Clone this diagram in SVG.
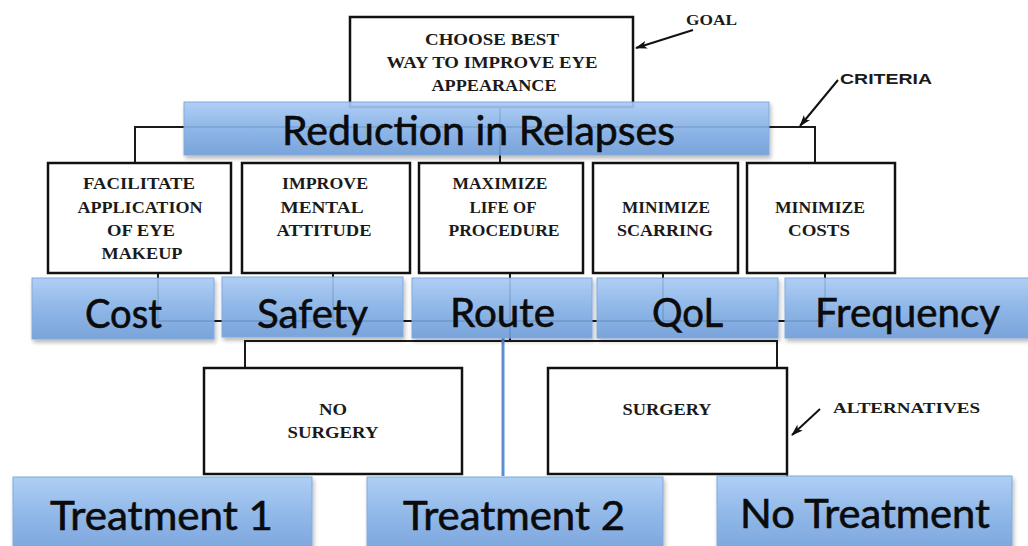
<svg xmlns="http://www.w3.org/2000/svg" width="1028" height="546" viewBox="0 0 1028 546">
  <defs>
    <linearGradient id="blue" x1="0" y1="0" x2="0" y2="1">
      <stop offset="0" stop-color="#a9cbf4"/>
      <stop offset="0.5" stop-color="#86b1e6"/>
      <stop offset="1" stop-color="#6f9dd8"/>
    </linearGradient>
    <filter id="shadow" x="-5%" y="-10%" width="112%" height="135%">
      <feDropShadow dx="1.5" dy="3" stdDeviation="2" flood-color="#000" flood-opacity="0.3"/>
    </filter>
    <marker id="head" viewBox="0 0 12 8" refX="11" refY="4" markerWidth="12" markerHeight="8" markerUnits="userSpaceOnUse" orient="auto">
      <path d="M0,0 L12,4 L0,8 L3,4 Z" fill="#111"/>
    </marker>
    <style>
      .box { fill: #fff; stroke: #111; stroke-width: 2.5; }
      .wire { fill: none; stroke: #1a1a1a; stroke-width: 2; }
      .pointer { fill: none; stroke: #111; stroke-width: 2; marker-end: url(#head); }
      .bar { fill: url(#blue); stroke: #77a3da; stroke-width: 1; }
      .barset { opacity: 0.92; }
      .scan { font-family: "Liberation Serif", serif; font-weight: bold; font-size: 16px; fill: #1a1a1a; text-anchor: middle; }
      .tag { font-family: "Liberation Serif", serif; font-weight: bold; font-size: 15px; fill: #1a1a1a; }
      .big { font-family: Lato, "Open Sans", sans-serif; font-size: 40px; fill: #0b0b0b; stroke: #0b0b0b; stroke-width: 0.6; text-anchor: middle; }
    </style>
  </defs>

  <rect width="1028" height="546" fill="#fff"/>

  <!-- connectors of the hierarchy -->
  <g id="connectors">
    <path class="wire" d="M135,163 V127 H815 V163"/>
    <path class="wire" d="M500,105 V163"/>
    <path class="wire" d="M158,273 V321 M333,273 V321 M510,273 V321 M663,273 V321 M825,273 V321 M158,321 H825"/>
    <path class="wire" d="M510,321 V341"/>
    <path class="wire" d="M245,368 V341 H777 V368"/>
    <line x1="503" y1="338" x2="503" y2="476" stroke="#5b8fd2" stroke-width="3"/>
    <path class="pointer" d="M693,30 L636,48"/>
    <path class="pointer" d="M838,80 L800,126"/>
    <path class="pointer" d="M820,409 L792,435"/>
  </g>

  <!-- goal -->
  <g id="goal">
    <rect class="box" x="350" y="17" width="283" height="90"/>
    <text class="scan" x="492" y="45" font-size="17" textLength="134" lengthAdjust="spacingAndGlyphs">CHOOSE  BEST</text>
    <text class="scan" x="492" y="68" font-size="17" textLength="211" lengthAdjust="spacingAndGlyphs">WAY TO IMPROVE EYE</text>
    <text class="scan" x="494" y="91" font-size="17" textLength="125" lengthAdjust="spacingAndGlyphs">APPEARANCE</text>
  </g>
  <g id="goal-label">
    <text class="tag" x="686" y="25" textLength="51" lengthAdjust="spacingAndGlyphs">GOAL</text>
  </g>
  <g id="criteria-label">
    <text x="840" y="84" font-family="Liberation Sans, sans-serif" font-weight="bold" font-size="14" fill="#1a1a1a" textLength="92" lengthAdjust="spacingAndGlyphs">CRITERIA</text>
  </g>

  <!-- criteria -->
  <g id="criterion-makeup">
    <rect class="box" x="48" y="163" width="183" height="110"/>
    <text class="scan" x="139" y="189" textLength="112" lengthAdjust="spacingAndGlyphs">FACILITATE</text>
    <text class="scan" x="140" y="213" textLength="125" lengthAdjust="spacingAndGlyphs">APPLICATION</text>
    <text class="scan" x="141" y="236" textLength="68" lengthAdjust="spacingAndGlyphs">OF EYE</text>
    <text class="scan" x="142" y="259" textLength="81" lengthAdjust="spacingAndGlyphs">MAKEUP</text>
  </g>
  <g id="criterion-attitude">
    <rect class="box" x="242" y="163" width="168" height="110"/>
    <text class="scan" x="325" y="189" textLength="86" lengthAdjust="spacingAndGlyphs">IMPROVE</text>
    <text class="scan" x="322" y="213" textLength="83" lengthAdjust="spacingAndGlyphs">MENTAL</text>
    <text class="scan" x="324" y="236" textLength="95" lengthAdjust="spacingAndGlyphs">ATTITUDE</text>
  </g>
  <g id="criterion-life">
    <rect class="box" x="419" y="163" width="164" height="110"/>
    <text class="scan" x="500" y="189" textLength="95" lengthAdjust="spacingAndGlyphs">MAXIMIZE</text>
    <text class="scan" x="503" y="213" textLength="67" lengthAdjust="spacingAndGlyphs">LIFE OF</text>
    <text class="scan" x="504" y="236" textLength="111" lengthAdjust="spacingAndGlyphs">PROCEDURE</text>
  </g>
  <g id="criterion-scarring">
    <rect class="box" x="593" y="163" width="145" height="110"/>
    <text class="scan" x="666" y="213" textLength="88" lengthAdjust="spacingAndGlyphs">MINIMIZE</text>
    <text class="scan" x="665" y="236" textLength="96" lengthAdjust="spacingAndGlyphs">SCARRING</text>
  </g>
  <g id="criterion-costs">
    <rect class="box" x="747" y="163" width="148" height="110"/>
    <text class="scan" x="820" y="213" textLength="90" lengthAdjust="spacingAndGlyphs">MINIMIZE</text>
    <text class="scan" x="819" y="236" textLength="62" lengthAdjust="spacingAndGlyphs">COSTS</text>
  </g>

  <!-- alternatives -->
  <g id="alt-no-surgery">
    <rect class="box" x="204" y="368" width="258" height="106"/>
    <text class="scan" x="333" y="415" font-size="15" textLength="28" lengthAdjust="spacingAndGlyphs">NO</text>
    <text class="scan" x="333" y="438" font-size="15" textLength="91" lengthAdjust="spacingAndGlyphs">SURGERY</text>
  </g>
  <g id="alt-surgery">
    <rect class="box" x="548" y="368" width="239" height="106"/>
    <path class="wire" d="M787,474 V477" stroke-width="2.5"/>
    <text class="scan" x="667" y="415" font-size="15" textLength="89" lengthAdjust="spacingAndGlyphs">SURGERY</text>
  </g>
  <g id="alternatives-label">
    <text class="tag" x="833" y="413" textLength="147" lengthAdjust="spacingAndGlyphs">ALTERNATIVES</text>
  </g>

  <!-- blue overlay: objective -->
  <g id="objective" class="barset" filter="url(#shadow)">
    <rect class="bar" x="184" y="102" width="585" height="53"/>
  </g>
  <g id="objective-text">
    <text class="big" x="478.5" y="145" textLength="393" lengthAdjust="spacingAndGlyphs">Reduction in Relapses</text>
  </g>

  <!-- blue overlay: criteria -->
  <g id="crit-cost">
    <g class="barset" filter="url(#shadow)"><rect class="bar" x="32" y="278" width="182" height="61"/></g>
    <text class="big" x="123.5" y="328" textLength="77" lengthAdjust="spacingAndGlyphs">Cost</text>
  </g>
  <g id="crit-safety">
    <g class="barset" filter="url(#shadow)"><rect class="bar" x="222" y="277" width="181" height="60"/></g>
    <text class="big" x="312.5" y="328" textLength="111" lengthAdjust="spacingAndGlyphs">Safety</text>
  </g>
  <g id="crit-route">
    <g class="barset" filter="url(#shadow)"><rect class="bar" x="412" y="278" width="180" height="60"/></g>
    <text class="big" x="502.5" y="327" textLength="105" lengthAdjust="spacingAndGlyphs">Route</text>
  </g>
  <g id="crit-qol">
    <g class="barset" filter="url(#shadow)"><rect class="bar" x="597" y="278" width="181" height="60"/></g>
    <text class="big" x="687.5" y="327" textLength="71" lengthAdjust="spacingAndGlyphs">QoL</text>
  </g>
  <g id="crit-frequency">
    <g class="barset" filter="url(#shadow)"><rect class="bar" x="785" y="278" width="250" height="60"/></g>
    <text class="big" x="907.5" y="327" textLength="185" lengthAdjust="spacingAndGlyphs">Frequency</text>
  </g>

  <!-- blue overlay: treatments -->
  <g id="treat-1">
    <g class="barset" filter="url(#shadow)"><rect class="bar" x="13" y="477" width="299" height="80"/></g>
    <text class="big" x="161.5" y="530" textLength="223" lengthAdjust="spacingAndGlyphs">Treatment 1</text>
  </g>
  <g id="treat-2">
    <g class="barset" filter="url(#shadow)"><rect class="bar" x="367" y="477" width="296" height="80"/></g>
    <text class="big" x="514" y="530" textLength="222" lengthAdjust="spacingAndGlyphs">Treatment 2</text>
  </g>
  <g id="treat-none">
    <g class="barset" filter="url(#shadow)"><rect class="bar" x="717" y="476" width="295" height="80"/></g>
    <text class="big" x="865" y="528" textLength="250" lengthAdjust="spacingAndGlyphs">No Treatment</text>
  </g>
</svg>
